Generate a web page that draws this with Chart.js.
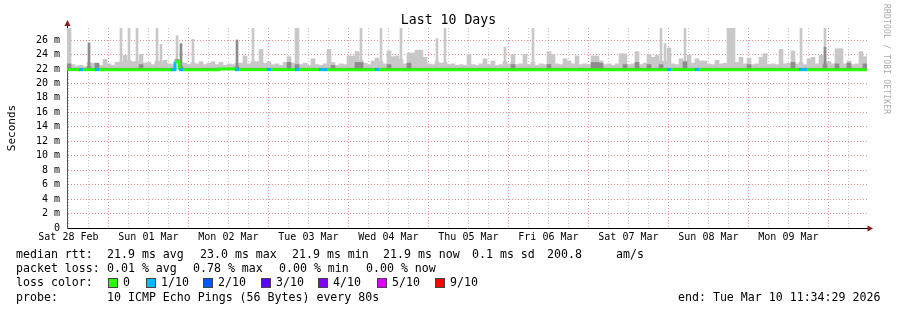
<!DOCTYPE html>
<html>
<head>
<meta charset="utf-8">
<script src="https://cdn.jsdelivr.net/npm/chart.js@4.4.1/dist/chart.umd.min.js"></script>
<style>
  body { margin: 0; background: #fff; }
  #wrap { position: relative; width: 897px; height: 310px; font-family: "DejaVu Sans Mono", monospace; color: #000; }
  #c { position: absolute; left: 0; top: 0; }
  .t { position: absolute; font-size: 11.6px; line-height: 13px; white-space: pre; }
  .box { position: absolute; width: 8px; height: 8px; border: 1px solid #444; }
  #title { position: absolute; left: 0; width: 897px; top: 12px; text-align: center; font-size: 13.2px; line-height: 16px; }
  #brand { position: absolute; left: 882px; top: 4px; font-size: 8px; color: #aaa; writing-mode: vertical-rl; letter-spacing: 0.2px; }
</style>
</head>
<body>
<div id="wrap">
  <canvas id="c" width="897" height="310"></canvas>
  <div id="title">Last 10 Days</div>
  <div id="brand">RRDTOOL / TOBI OETIKER</div>
  <div id="legend"></div>
</div>
<script>
// 10 days, 200 buckets of 1.2 h (4 px each in the original)
var bucketHours = 1.2;
var dayLabels = ['Sat 28 Feb', 'Sun 01 Mar', 'Mon 02 Mar', 'Tue 03 Mar', 'Wed 04 Mar',
                 'Thu 05 Mar', 'Fri 06 Mar', 'Sat 07 Mar', 'Sun 08 Mar', 'Mon 09 Mar'];

// top of the light smoke band (ms)
var smokeHigh = [
  27.7,22.6,22.4,22.5,22.3,22.9,22.8,22.6,22.5,23.3, 22.7,22.5,22.9,23.0,23.9,23.2,23.0,23.0,24.0,22.8,
  22.9,22.6,23.1,23.0,23.2,22.7,22.6,23.1,22.9,22.8, 22.6,22.9,22.7,23.0,22.6,22.8,23.0,22.6,22.9,22.5,
  22.7,22.6,22.8,22.8,23.8,22.7,23.0,23.0,24.7,22.8, 23.0,22.6,22.7,22.5,22.9,23.7,22.8,27.7,22.6,22.8,
  22.5,23.4,22.6,22.5,22.7,24.7,22.9,22.5,22.7,22.6, 23.8,23.8,24.4,23.2,22.8,22.6,23.1,23.5,23.0,22.7,
  24.5,23.7,23.8,23.3,22.7,24.2,24.2,24.6,24.6,23.6, 22.7,22.6,23.0,22.8,22.9,22.6,22.7,22.5,22.6,22.5,
  24.0,22.6,22.5,22.7,23.4,22.6,23.1,22.5,22.6,23.0, 22.7,24.0,22.6,22.7,24.0,22.6,22.9,22.5,22.7,22.6,
  24.4,24.0,22.7,22.6,23.4,23.1,22.7,23.8,22.6,22.7, 22.6,23.8,23.8,23.1,22.6,22.7,22.5,22.7,24.1,24.1,
  22.6,22.7,24.4,22.6,22.8,24.0,23.6,23.9,23.1,23.0, 24.9,22.7,22.6,23.4,22.9,23.9,22.8,23.4,23.1,23.1,
  22.7,22.6,23.2,22.7,22.8,27.7,27.7,22.9,23.6,22.7, 23.5,22.6,22.7,23.6,24.1,22.6,22.7,22.6,24.7,22.7,
  22.8,24.5,22.7,22.9,22.6,23.4,23.6,22.7,23.9,23.0, 23.0,22.7,24.8,24.8,22.7,23.1,22.6,22.7,24.4,23.7
];

// top of the dark smoke band (ms)
var smokeDark = [
  22.7,22.1,22.1,22.1,22.1,22.3,22.1,22.8,22.1,22.1, 22.1,22.1,22.1,22.1,22.1,22.1,22.1,22.1,22.6,22.1,
  22.1,22.1,22.1,22.1,22.1,22.1,22.1,23.3,22.3,22.1, 22.1,22.1,22.1,22.1,22.1,22.1,22.1,22.1,22.1,22.1,
  22.1,22.1,22.3,22.1,22.1,22.1,22.1,22.1,22.1,22.1, 22.1,22.1,22.1,22.1,22.1,22.9,22.1,22.6,22.1,22.1,
  22.1,22.1,22.1,22.1,22.1,22.1,22.5,22.1,22.1,22.1, 22.1,22.1,22.9,22.9,22.1,22.1,22.1,22.1,22.1,22.1,
  22.6,22.1,22.1,22.1,22.1,22.8,22.1,22.1,22.1,22.1, 22.1,22.1,22.1,22.1,22.1,22.1,22.1,22.1,22.1,22.1,
  22.1,22.1,22.1,22.1,22.1,22.1,22.1,22.1,22.1,22.1, 22.1,22.6,22.1,22.1,22.1,22.1,22.1,22.1,22.1,22.1,
  22.6,22.1,22.1,22.1,22.1,22.1,22.1,22.1,22.1,22.1, 22.1,22.9,22.9,22.8,22.1,22.1,22.1,22.1,22.1,22.6,
  22.1,22.1,22.9,22.1,22.1,22.6,22.1,22.1,22.6,22.1, 22.1,22.1,22.1,22.1,23.0,22.1,22.1,22.1,22.1,22.1,
  22.1,22.1,22.1,22.1,22.1,22.1,22.1,22.1,22.1,22.1, 22.6,22.1,22.1,22.1,22.1,22.1,22.1,22.1,22.1,22.1,
  22.1,22.9,22.1,22.1,22.1,22.1,22.1,22.1,22.1,22.6, 22.1,22.1,22.7,22.1,22.1,22.8,22.1,22.1,22.1,22.7
];

// thin outlier spikes: bucket index and top (ms)
var spikeBuckets = [13, 15, 17, 22, 23, 27, 31, 46, 73, 78, 83, 92, 94, 109, 116, 148, 149, 154, 183, 189];
var spikeTops    = [27.7, 27.7, 27.7, 27.7, 25.4, 26.6, 26.1, 27.7, 27.7, 27.7, 27.7, 26.2, 27.7, 25.0, 27.7, 27.7, 25.5, 27.6, 27.7, 27.7];
var darkSpikeBuckets = [5, 28, 42, 189];
var darkSpikeTops    = [25.6, 25.5, 26.0, 25.0];

// median rtt (ms)
var medianRtt = [
  21.9,21.9,21.9,21.9,21.9,21.9,21.9,21.9,21.9,21.9, 21.9,21.9,21.9,21.9,21.9,21.9,21.9,21.9,21.9,21.9,
  21.9,21.9,21.9,21.9,21.9,21.9,21.9,23.0,21.9,21.9, 21.9,21.9,21.9,21.9,21.9,21.9,21.9,21.9,22.0,22.0,
  22.0,22.0,21.9,21.9,21.9,21.9,21.9,21.9,21.9,21.9, 21.9,21.9,21.9,21.9,21.9,21.9,21.9,21.9,21.9,21.9,
  21.9,21.9,21.9,21.9,21.9,21.9,21.9,21.9,21.9,21.9, 21.9,21.9,21.9,21.9,21.9,21.9,21.9,21.9,21.9,21.9,
  21.9,21.9,21.9,21.9,21.9,21.9,21.9,21.9,21.9,21.9, 21.9,21.9,21.9,21.9,21.9,21.9,21.9,21.9,21.9,21.9,
  21.9,21.9,21.9,21.9,21.9,21.9,21.9,21.9,21.9,21.9, 21.9,21.9,21.9,21.9,21.9,21.9,21.9,21.9,21.9,21.9,
  21.9,21.9,21.9,21.9,21.9,21.9,21.9,21.9,21.9,21.9, 21.9,21.9,21.9,21.9,21.9,21.9,21.9,21.9,21.9,21.9,
  21.9,21.9,21.9,21.9,21.9,21.9,21.9,21.9,21.9,21.9, 21.9,21.9,21.9,21.9,21.9,21.9,21.9,21.9,21.9,21.9,
  21.9,21.9,21.9,21.9,21.9,21.9,21.9,21.9,21.9,21.9, 21.9,21.9,21.9,21.9,21.9,21.9,21.9,21.9,21.9,21.9,
  21.9,21.9,21.9,21.9,21.9,21.9,21.9,21.9,21.9,21.9, 21.9,21.9,21.9,21.9,21.9,21.9,21.9,21.9,21.9,21.9
];

// loss per bucket, as index into lossColors
var lossLevel = [
  0,0,0,1,0,0,0,1,0,0, 0,0,0,0,0,0,0,0,0,0,
  0,0,0,0,0,0,1,0,1,0, 0,0,0,0,0,0,0,0,0,0,
  0,0,1,0,0,0,0,0,0,0, 1,0,0,0,0,0,0,1,0,0,
  0,0,0,1,1,0,0,0,0,0, 0,0,0,0,0,0,0,1,0,0,
  0,0,0,0,0,0,0,0,0,0, 0,0,0,0,0,0,0,0,0,0,
  0,0,0,0,0,0,0,0,0,0, 0,0,0,0,0,0,0,0,0,0,
  0,0,0,0,0,0,0,0,0,0, 0,0,0,0,0,0,0,0,0,0,
  0,0,0,0,0,0,0,0,0,0, 1,0,0,0,0,0,0,1,0,0,
  0,0,0,0,0,0,0,0,0,0, 0,0,0,0,0,0,0,0,0,0,
  0,0,0,1,1,0,0,0,0,0, 0,0,0,0,0,0,0,0,0,0
];

var lossColors = ['#26ff00', '#00b8ff', '#0059ff', '#5e00ff', '#7e00ff', '#dd00ff', '#ff0000'];
var lossNames  = ['0', '1/10', '2/10', '3/10', '4/10', '5/10', '9/10'];

var noonOffset = 0.425;   // first noon after start (Sat 28 Feb 11:34:29)

(function(){
    function mid(i) { return i * bucketHours + bucketHours / 2; }
    var light = [], dark = [], median = [], spikes = [], darkSpikes = [];
    for (var i = 0; i < smokeHigh.length; i++) {
        light.push({x: mid(i), y: [medianRtt[i], smokeHigh[i]]});
        dark.push({x: mid(i), y: [medianRtt[i], smokeDark[i]]});
        median.push({x: i * bucketHours, y: medianRtt[i]});
    }
    median.push({x: smokeHigh.length * bucketHours, y: medianRtt[medianRtt.length - 1]});
    spikeBuckets.forEach(function(b, k) { spikes.push({x: mid(b), y: [medianRtt[b], spikeTops[k]]}); });
    darkSpikeBuckets.forEach(function(b, k) { darkSpikes.push({x: mid(b), y: [medianRtt[b], darkSpikeTops[k]]}); });

    // axis arrows like rrdtool
    var arrows = {
        id: 'arrows',
        afterDraw: function(chart) {
            var ctx = chart.ctx, a = chart.chartArea;
            ctx.save();
            ctx.strokeStyle = '#000';
            ctx.lineWidth = 1;
            ctx.beginPath();
            ctx.moveTo(a.left + 0.5, a.top);
            ctx.lineTo(a.left + 0.5, a.top - 4);
            ctx.moveTo(a.right, a.bottom + 0.5);
            ctx.lineTo(a.right + 3, a.bottom + 0.5);
            ctx.stroke();
            ctx.fillStyle = '#8b1a1a';
            ctx.beginPath();
            ctx.moveTo(a.left + 0.5, a.top - 8);
            ctx.lineTo(a.left - 2.5, a.top - 2);
            ctx.lineTo(a.left + 3.5, a.top - 2);
            ctx.fill();
            ctx.beginPath();
            ctx.moveTo(a.right + 6, a.bottom + 0.5);
            ctx.lineTo(a.right + 0.5, a.bottom - 2.5);
            ctx.lineTo(a.right + 0.5, a.bottom + 3.5);
            ctx.fill();
            ctx.restore();
        }
    };

    var mono = '"DejaVu Sans Mono", monospace';
    var majorGrid = 'rgba(230,110,110,0.75)';
    var minorGrid = '#c8c8c8';
    var ctx = document.getElementById('c').getContext('2d');
    new Chart(ctx, {
        data: {
            datasets: [{
                type: 'line',
                data: median,
                order: 0,
                stepped: 'before',
                borderWidth: 3,
                borderCapStyle: 'butt',
                pointRadius: 0,
                segment: {
                    borderColor: function(c) { return lossColors[lossLevel[Math.min(c.p0DataIndex, lossLevel.length - 1)]]; }
                },
                borderColor: lossColors[0]
            }, {
                type: 'bar',
                data: darkSpikes,
                order: 1,
                grouped: false,
                backgroundColor: '#8c8c8c',
                barThickness: 2
            }, {
                type: 'bar',
                data: dark,
                order: 2,
                grouped: false,
                backgroundColor: '#8c8c8c',
                barPercentage: 1,
                categoryPercentage: 1
            }, {
                type: 'bar',
                data: spikes,
                order: 3,
                grouped: false,
                backgroundColor: '#c8c8c8',
                barThickness: 2
            }, {
                type: 'bar',
                data: light,
                order: 4,
                grouped: false,
                backgroundColor: '#c8c8c8',
                barPercentage: 1,
                categoryPercentage: 1
            }]
        },
        options: {
            responsive: false,
            animation: false,
            layout: { padding: { left: 0, right: 30, top: 28, bottom: 0 } },
            plugins: { legend: { display: false }, tooltip: { enabled: false } },
            scales: {
                x: {
                    type: 'linear',
                    min: 0,
                    max: 240,
                    offset: false,
                    afterFit: function(s) { s.height = 82; },
                    afterBuildTicks: function(s) {
                        var t = [];
                        for (var k = 0; noonOffset + 6 * k < 240; k++) t.push({value: noonOffset + 6 * k});
                        s.ticks = t;
                    },
                    ticks: {
                        autoSkip: false,
                        maxRotation: 0,
                        padding: 3,
                        color: '#000',
                        font: { family: mono, size: 10 },
                        callback: function(v, k) { return k % 4 === 0 ? dayLabels[k / 4] : ''; }
                    },
                    grid: {
                        drawTicks: false,
                        offset: false,
                        color: function(c) { return c.index % 4 === 2 ? majorGrid : minorGrid; }
                    },
                    border: { color: '#000', width: 1, dash: [1, 2] }
                },
                y: {
                    min: 0,
                    max: 27.66,
                    afterFit: function(s) { s.width = 67; },
                    ticks: {
                        stepSize: 1,
                        includeBounds: false,
                        padding: 7,
                        color: '#000',
                        font: { family: mono, size: 10 },
                        callback: function(v) { return v === 0 ? '0' : (v % 2 ? '' : v + ' m'); }
                    },
                    grid: {
                        drawTicks: false,
                        color: function(c) {
                            var v = c.tick.value;
                            if (v === 0) return 'rgba(0,0,0,0)';
                            return v % 2 ? minorGrid : majorGrid;
                        }
                    },
                    border: { color: '#555', width: 1, dash: [1, 2] },
                    title: {
                        display: true,
                        text: 'Seconds',
                        color: '#000',
                        padding: { top: 6, bottom: 0 },
                        font: { family: mono, size: 11 }
                    }
                }
            }
        },
        plugins: [arrows]
    });

    // text legend under the graph, rrdtool style
    var lg = document.getElementById('legend');
    function txt(s, x, y) {
        var d = document.createElement('div');
        d.className = 't';
        d.textContent = s;
        d.style.left = x + 'px';
        d.style.top = y + 'px';
        lg.appendChild(d);
    }
    var rows = [247.5, 261.5, 276, 290.5];
    txt('median rtt:', 16, rows[0]);
    txt('21.9 ms avg', 107, rows[0]);
    txt('23.0 ms max', 200, rows[0]);
    txt('21.9 ms min', 292, rows[0]);
    txt('21.9 ms now', 383, rows[0]);
    txt('0.1 ms sd', 472, rows[0]);
    txt('200.8', 547, rows[0]);
    txt('am/s', 616, rows[0]);
    txt('packet loss:', 16, rows[1]);
    txt('0.01 % avg', 107, rows[1]);
    txt('0.78 % max', 193, rows[1]);
    txt('0.00 % min', 279, rows[1]);
    txt('0.00 % now', 366, rows[1]);
    txt('loss color:', 16, rows[2]);
    var boxX = [108, 146, 203, 261, 318, 377, 435];
    for (var j = 0; j < lossColors.length; j++) {
        var b = document.createElement('div');
        b.className = 'box';
        b.style.left = boxX[j] + 'px';
        b.style.top = (rows[2] + 2) + 'px';
        b.style.background = lossColors[j];
        lg.appendChild(b);
        txt(lossNames[j], boxX[j] + 15, rows[2]);
    }
    txt('probe:', 16, rows[3]);
    txt('10 ICMP Echo Pings (56 Bytes) every 80s', 107, rows[3]);
    txt('end: Tue Mar 10 11:34:29 2026', 678, rows[3]);
})();
</script>
</body>
</html>
